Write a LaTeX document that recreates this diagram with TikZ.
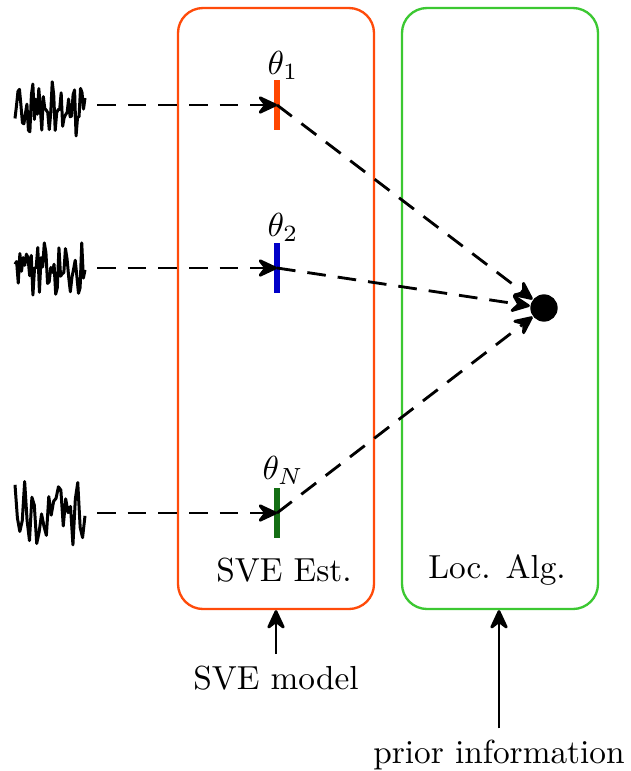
\documentclass[tikz,border=0pt]{standalone}
\usetikzlibrary{arrows.meta}
\definecolor{boxorange}{RGB}{255,75,10}
\definecolor{boxgreen}{RGB}{60,200,50}
\definecolor{barorange}{RGB}{255,70,0}
\definecolor{barblue}{RGB}{0,0,200}
\definecolor{bargreen}{RGB}{20,110,20}
\begin{document}
\begin{tikzpicture}[x=0.3pt,y=-0.3pt,
  container/.style={draw, line width=0.7pt, rounded corners=7.5pt, minimum width=58.8pt, minimum height=180.3pt, inner sep=0pt},
  bar/.style={fill=#1, draw=none, inner sep=0pt, minimum width=1.9pt, minimum height=15pt},
  dashline/.style={line width=0.85pt, dash pattern=on 5.6pt off 3.6pt},
  tip/.style={-{Stealth[length=7pt,width=6.5pt,inset=2.5pt,round]}},
  wave/.style={line width=0.9pt, line join=round}
]
\useasboundingbox (0,0) rectangle (630,771);

% containers
\node[container, draw=boxorange] (sve) at (276,308.5) {};
\node[container, draw=boxgreen] (loc) at (500,308.5) {};
\node (svelabel) at (284,570) {SVE Est.};
\node (loclabel) at (497,570) {Loc. Alg.};

% signals
\pgfmathsetseed{11}
\draw[wave] plot[domain=15:85, samples=48] (\x,{108+10*sin(\x*53)+22*rand});
\draw[wave] plot[domain=15:85, samples=44] (\x,{270+8*sin(\x*47)+20*rand});
\draw[wave] plot[domain=15:85, samples=30] (\x,{512+12*sin(\x*41)+22*rand});
\coordinate (s1) at (97,105);
\coordinate (s2) at (97,268);
\coordinate (s3) at (97,513);

% parameter bars
\node[bar=barorange] (b1) at (277,105) {};
\node[bar=barblue] (b2) at (277,268) {};
\node[bar=bargreen] (b3) at (277,513) {};
\node (t1) at (283,65) {$\theta_1$};
\node (t2) at (283,227) {$\theta_2$};
\node (t3) at (283,470) {$\theta_N$};

% target
\node[circle, fill=black, inner sep=0pt, minimum size=8.2pt] (d) at (544,308) {};

% dashed arrows
\draw[dashline, tip] (s1) -- (b1.center);
\draw[dashline, tip] (s2) -- (b2.center);
\draw[dashline, tip] (s3) -- (b3.center);
\draw[dashline, tip] (b1.center) -- (d);
\draw[dashline, tip] (b2.center) -- (d);
\draw[dashline, tip] (b3.center) -- (d);

% inputs
\node (model) at (276,678) {SVE model};
\node (prior) at (499,755) {prior information};
\draw[line width=0.85pt, tip] (model.north) -- (model.north |- sve.south);
\draw[line width=0.85pt, tip] (prior.north) -- (prior.north |- loc.south);
\end{tikzpicture}
\end{document}
